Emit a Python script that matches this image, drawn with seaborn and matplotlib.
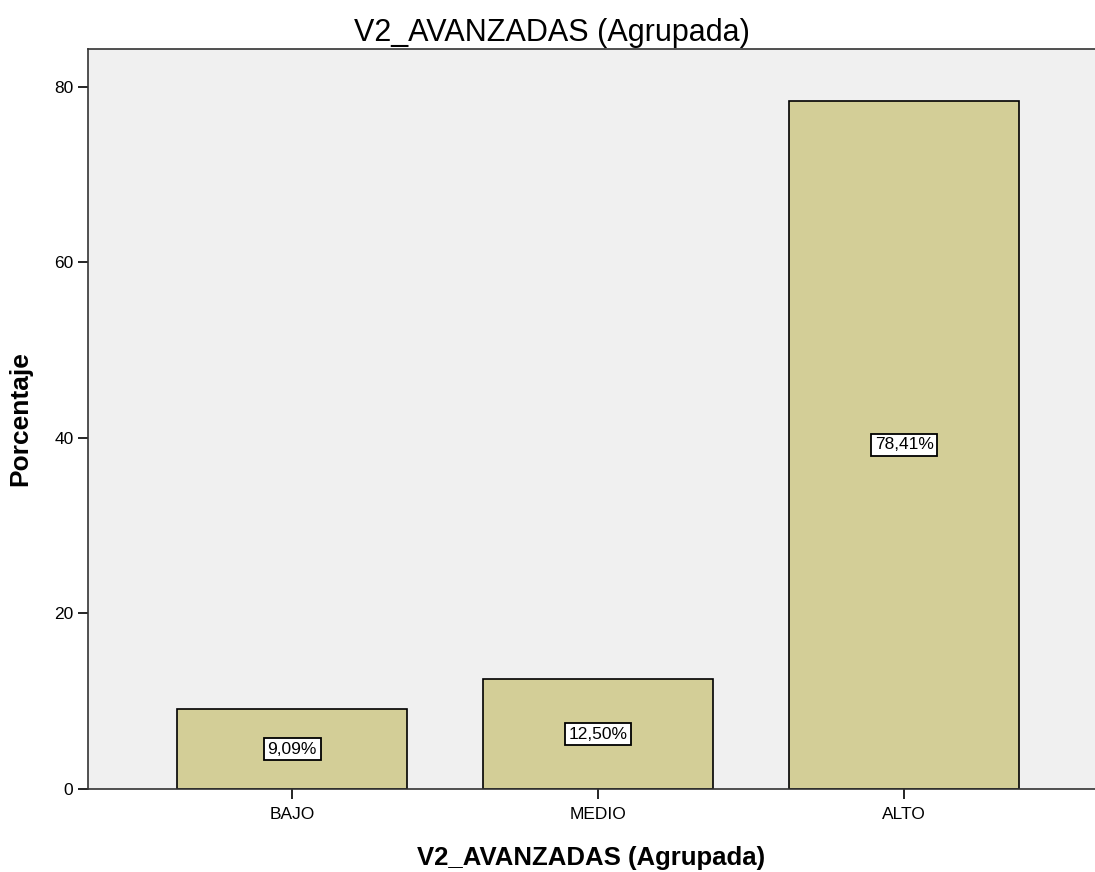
import matplotlib
matplotlib.use("Agg")
import matplotlib.pyplot as plt
import seaborn as sns
import pandas as pd

categories = ["BAJO", "MEDIO", "ALTO"]
values = [9.09, 12.50, 78.41]
labels = ["9,09%", "12,50%", "78,41%"]

sns.set_style("white")
plt.rcParams['font.family'] = ['Liberation Sans', 'DejaVu Sans']
plt.rcParams['text.color'] = 'black'
plt.rcParams['axes.labelcolor'] = 'black'
plt.rcParams['xtick.color'] = 'black'
plt.rcParams['ytick.color'] = 'black'

df = pd.DataFrame({"cat": categories, "val": values})

fig = plt.figure(figsize=(10.95, 8.72), dpi=100)
ax = fig.add_axes([88/1095, 1 - 789/872, (1095-88)/1095, (789-49)/872])
ax.set_facecolor("#F0F0F0")

sns.barplot(data=df, x="cat", y="val", order=categories, color="#D3CE97",
            saturation=1, width=0.75, edgecolor="black", linewidth=1.2, ax=ax)

for i, (v, lab) in enumerate(zip(values, labels)):
    ax.text(i, v / 2, lab, ha="center", va="center", fontsize=12.5, color="black",
            bbox=dict(boxstyle="square,pad=0.22", facecolor="white", edgecolor="black", linewidth=1.3))

ax.set_xlim(-0.667, 2.624)
ax.set_ylim(0, 84.3)
ax.set_yticks([0, 20, 40, 60, 80])
ax.tick_params(axis="both", which="both", direction="out", length=7, width=1.2,
               colors="black", labelsize=12.5, left=True, bottom=True)
ax.tick_params(axis="x", pad=6)
for s in ax.spines.values():
    s.set_color("#333333")
    s.set_linewidth(1.2)
ax.spines["right"].set_visible(False)

ax.set_xlabel("V2_AVANZADAS (Agrupada)", fontsize=18.5, fontweight="bold", labelpad=17)
ax.set_ylabel("Porcentaje", fontsize=19, fontweight="bold", labelpad=16)
ax.set_title("V2_AVANZADAS (Agrupada)", fontsize=22, fontweight="normal", pad=6, x=0.461)

fig.savefig("out.png", dpi=100)
